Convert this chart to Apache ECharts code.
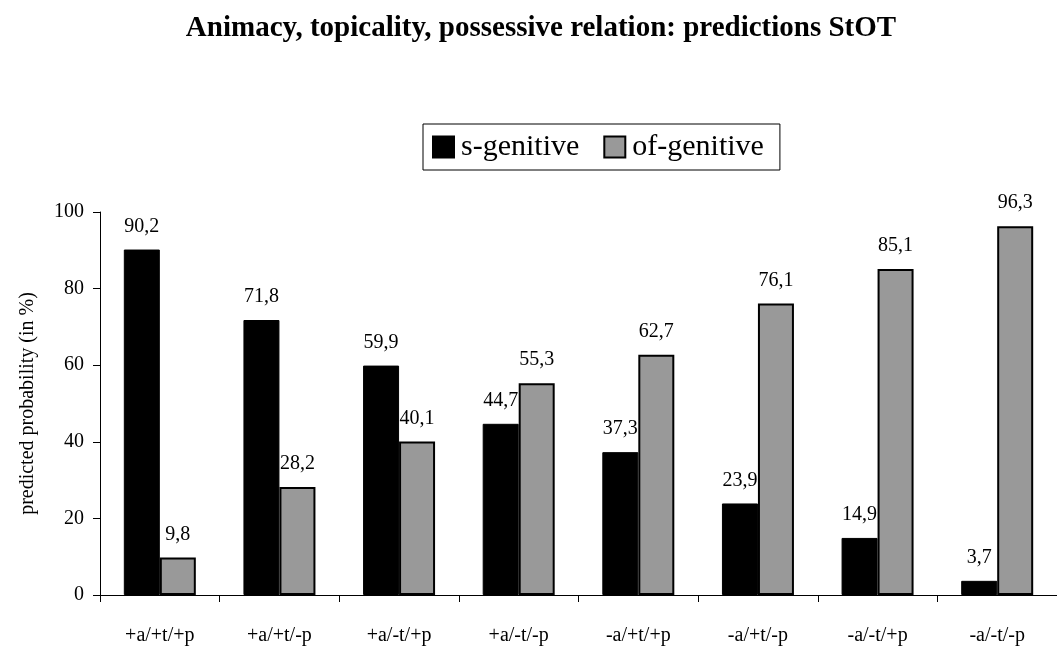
<!DOCTYPE html>
<html>
<head>
<meta charset="utf-8">
<script src="https://cdn.jsdelivr.net/npm/echarts@6/dist/echarts.min.js"></script>
<style>
  html, body { margin: 0; padding: 0; background: #ffffff; }
  #chart { width: 1057px; height: 650px; }
</style>
</head>
<body>
<div id="chart"></div>
<script>
// Predicted probabilities (in %) per animacy / topicality / possessive-relation combination
const categories = ['+a/+t/+p', '+a/+t/-p', '+a/-t/+p', '+a/-t/-p', '-a/+t/+p', '-a/+t/-p', '-a/-t/+p', '-a/-t/-p'];
const sGenitive = [90.2, 71.8, 59.9, 44.7, 37.3, 23.9, 14.9, 3.7];
const ofGenitive = [9.8, 28.2, 40.1, 55.3, 62.7, 76.1, 85.1, 96.3];
const yTicks = { min: 0, max: 100, interval: 20 };

const FONT = "'Liberation Serif', 'Times New Roman', serif";
const commaDecimal = v => String(v).replace('.', ',');

const barLabel = {
  show: true,
  position: 'top',
  distance: 13,
  color: '#000',
  fontFamily: FONT,
  fontSize: 20,
  formatter: p => commaDecimal(p.value)
};

const chart = echarts.init(document.getElementById('chart'), null, { renderer: 'canvas' });
chart.setOption({
  backgroundColor: '#ffffff',
  animation: false,
  title: {
    text: 'Animacy, topicality, possessive relation: predictions StOT',
    left: 536,
    textAlign: 'center',
    top: 9,
    textStyle: { fontFamily: FONT, fontSize: 29, fontWeight: 'bold', color: '#000' }
  },
  legend: {
    left: 423,
    top: 124,
    padding: [8, 16, 8, 9],
    itemGap: 24,
    itemWidth: 21,
    itemHeight: 21,
    borderColor: '#000',
    borderWidth: 1,
    icon: 'rect',
    textStyle: { fontFamily: FONT, fontSize: 30, color: '#000', padding: [0, 0, 0, 2] },
    data: ['s-genitive', 'of-genitive']
  },
  grid: { left: 100, right: -5, top: 212, bottom: 55, containLabel: false },
  xAxis: {
    type: 'category',
    data: categories,
    axisLine: { lineStyle: { color: '#000', width: 1 } },
    axisTick: { show: true, length: 7, lineStyle: { color: '#000' } },
    axisLabel: { margin: 31, fontFamily: FONT, fontSize: 20, color: '#000', interval: 0 }
  },
  yAxis: {
    type: 'value',
    min: yTicks.min,
    max: yTicks.max,
    interval: yTicks.interval,
    name: 'predicted probability (in %)',
    nameLocation: 'middle',
    nameGap: 62,
    nameTextStyle: { fontFamily: FONT, fontSize: 20, color: '#000' },
    axisLine: { show: true, lineStyle: { color: '#000', width: 1 } },
    axisTick: { show: true, length: 7, lineStyle: { color: '#000' } },
    splitLine: { show: false },
    axisLabel: { margin: 16, fontFamily: FONT, fontSize: 20, color: '#000' }
  },
  series: [
    {
      name: 's-genitive',
      type: 'bar',
      data: sGenitive,
      barWidth: 36,
      barGap: '0%',
      itemStyle: { color: '#000000', borderColor: '#000', borderWidth: 1 },
      label: barLabel
    },
    {
      name: 'of-genitive',
      type: 'bar',
      data: ofGenitive,
      barWidth: 36,
      itemStyle: { color: '#999999', borderColor: '#000', borderWidth: 2 },
      label: barLabel
    }
  ]
});
</script>
</body>
</html>
